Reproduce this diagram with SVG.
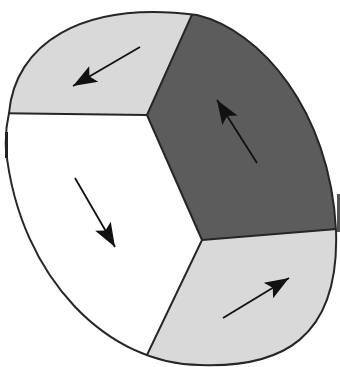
<svg xmlns="http://www.w3.org/2000/svg" width="340" height="367" viewBox="0 0 340 367">
<defs>
<style>
.edge{fill:none;stroke:#262626;stroke-width:2;stroke-linejoin:round}
.arrow{fill:none;stroke:#111;stroke-width:1.8;marker-end:url(#ah)}
.light{fill:#d9d9d9}
.dark{fill:#5c5c5c}
</style>
<marker id="ah" markerUnits="userSpaceOnUse" viewBox="-1 -10 27 20" refX="24" refY="0" markerWidth="27" markerHeight="20" orient="auto">
<path d="M24,0 L0,-9 L5,0 L0,9 Z" fill="#111"/>
</marker>
<clipPath id="shape">
<path d="M9,113 C15,45 80,0 197,15 C260,30 330,110 336,230 C340,340 280,368 200,365 C110,365 20,280 6,150 C5,135 7,122 9,113 Z"/>
</clipPath>
</defs>
<rect width="340" height="367" fill="#fff"/>
<g clip-path="url(#shape)">
<g id="region-top-left"><polygon class="light" points="-10,-10 203,-10 147,115 -10,113"/></g>
<g id="region-right"><polygon class="dark" points="203,-10 350,-10 350,228 202,240 147,115"/></g>
<g id="region-bottom-right"><polygon class="light" points="202,240 350,228 350,380 135,380"/></g>
<g id="dividers">
<polyline class="edge" points="-10,113 147,115 203,-10"/>
<line class="edge" x1="147" y1="115" x2="202" y2="240"/>
<polyline class="edge" points="350,228 202,240 135,380"/>
</g>
</g>
<path id="outline" class="edge" d="M9,113 C15,45 80,0 197,15 C260,30 330,110 336,230 C340,340 280,368 200,365 C110,365 20,280 6,150 C5,135 7,122 9,113 Z"/>
<line x1="6.5" y1="132" x2="6.5" y2="158" stroke="#222" stroke-width="3"/>
<line x1="338.5" y1="194" x2="338.5" y2="232" stroke="#555" stroke-width="3"/>
<g id="connectors">
<line class="arrow" x1="140" y1="47" x2="73" y2="86"/>
<line class="arrow" x1="257" y1="163" x2="217" y2="100"/>
<line class="arrow" x1="75" y1="178" x2="115" y2="247"/>
<line class="arrow" x1="223" y1="318" x2="289" y2="278"/>
</g>
</svg>
